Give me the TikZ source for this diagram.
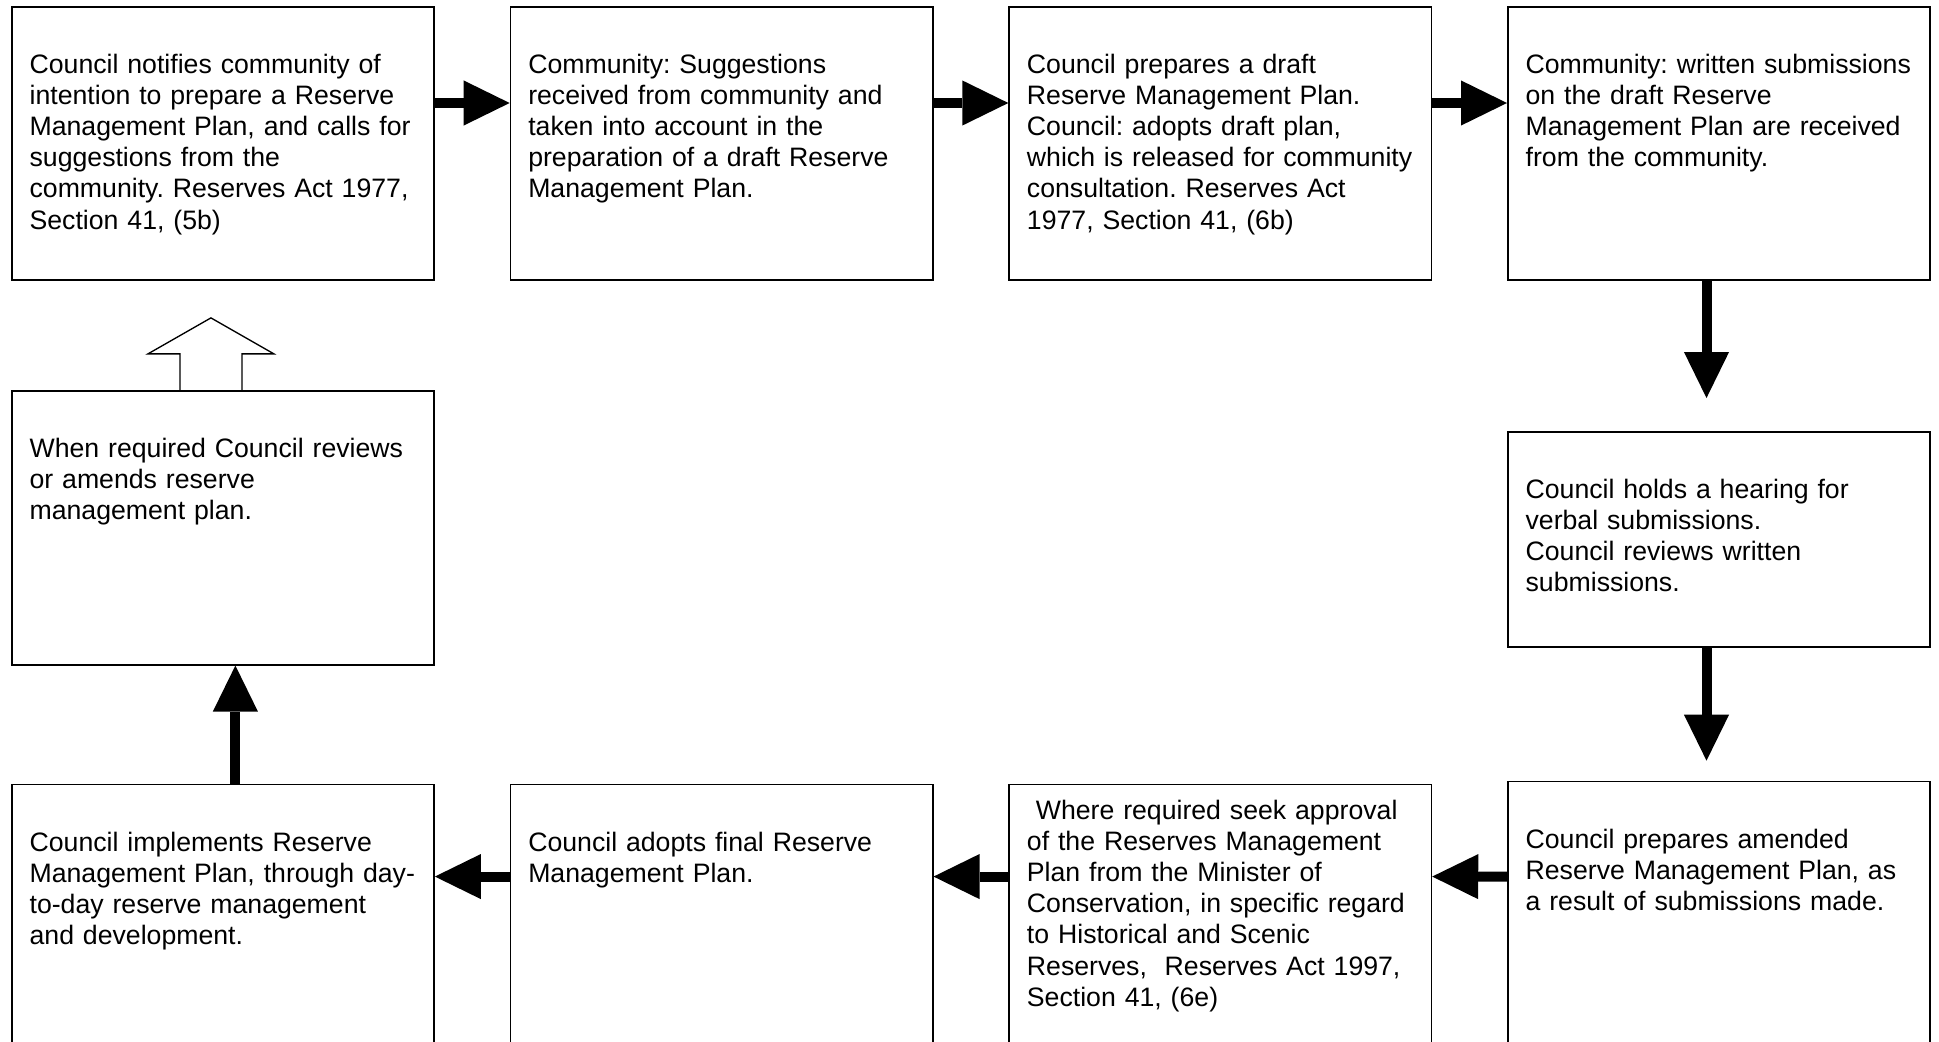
\documentclass[tikz,border=0pt]{standalone}
\usepackage{fontspec}
\newfontfamily\stagefont{Liberation Sans}
\usepackage{tikz}
\usetikzlibrary{arrows.meta}
\usetikzlibrary{positioning}
\frenchspacing
\hyphenpenalty=10000

\begin{document}
\begin{tikzpicture}[node distance=33.65pt,
	>={Triangle[width=20.3pt,length=20.7pt,line width=0pt]},
    stage/.style = {rectangle, draw=black, line width=0.75pt,
                    text width=174pt, inner xsep=8pt, inner ysep=0pt,
                    text height=30pt, align=left,
                    font={\stagefont\fontsize{12pt}{14pt}\selectfont}},
    toprow/.style = {stage, text depth=93pt},
    lowrow/.style = {stage, text depth=110pt},
    blockarrow/.style = {->, line width=4.5pt},
    hollow/.style = {draw=black, fill=white, line width=0.6pt}]
  \useasboundingbox (0,0) rectangle (872.55pt,-468.45pt);
  \clip (0,0) rectangle (872.55pt,-468.45pt);

  \node (notify) [toprow, anchor=north west] at (4.95pt,-2.7pt)
    {Council notifies community of\\ intention to prepare a Reserve\\
     Management Plan, and calls for\\ suggestions from the\\
     community. Reserves Act 1977,\\ Section 41, (5b)};
  \node (suggest) [toprow, right=of notify]
    {Community: Suggestions\\ received from community and\\
     taken into account in the\\ preparation of a draft Reserve\\
     Management Plan.};
  \node (draft) [toprow, right=of suggest]
    {Council prepares a draft\\ Reserve Management Plan.\\
     Council: adopts draft plan,\\ which is released for community\\
     consultation. Reserves Act\\ 1977, Section 41, (6b)};
  \node (written) [toprow, right=of draft]
    {Community: written submissions\\ on the draft Reserve\\
     Management Plan are received\\ from the community.};

  \node (hearing) [stage, text depth=66.75pt, below=67.5pt of written]
    {Council holds a hearing for\\ verbal submissions.\\
     Council reviews written\\ submissions.};
  \node (amended) [lowrow, below=59.85pt of hearing]
    {Council prepares amended\\ Reserve Management Plan, as\\
     a result of submissions made.};

  \node (review) [stage, text depth=93.3pt, below=49pt of notify]
    {When required Council reviews\\ or amends reserve\\ management plan.};
  \node (implement) [lowrow, below=53.1pt of review]
    {Council implements Reserve\\ Management Plan, through day-\\
     to-day reserve management\\ and development.};
  \node (adopt) [lowrow, right=of implement]
    {Council adopts final Reserve\\ Management Plan.};
  \node (approval) [lowrow, text height=15.8pt, text depth=124.2pt, right=of adopt]
    {~Where required seek approval\\ of the Reserves Management\\
     Plan from the Minister of\\ Conservation, in specific regard\\
     to Historical and Scenic\\ Reserves,~ Reserves Act 1997,\\
     Section 41, (6e)};

  % top row, left to right
  \draw[blockarrow] ([yshift=-43.65pt]notify.north east) -- ([yshift=-43.65pt]suggest.north west);
  \draw[blockarrow] ([yshift=-43.65pt]suggest.north east) -- ([yshift=-43.65pt]draft.north west);
  \draw[blockarrow] ([yshift=-43.65pt]draft.north east) -- ([yshift=-43.65pt]written.north west);

  % right column, downwards
  \draw[blockarrow] ([xshift=-5.6pt]written.south) -- ([xshift=-5.6pt,yshift=14.85pt]hearing.north);
  \draw[blockarrow] ([xshift=-5.6pt]hearing.south) -- ([xshift=-5.6pt,yshift=9pt]amended.north);

  % bottom row, right to left
  \draw[blockarrow] ([yshift=-43.2pt]amended.north west) -- ([yshift=-41.85pt]approval.north east);
  \draw[blockarrow] ([yshift=-41.85pt]approval.north west) -- ([yshift=-41.85pt]adopt.north east);
  \draw[blockarrow] ([yshift=-41.85pt]adopt.north west) -- ([yshift=-41.85pt]implement.north east);

  % back up the left side
  \draw[blockarrow] ([xshift=5.6pt]implement.north) -- ([xshift=5.6pt]review.south);
  \draw[hollow] ([xshift=-19.35pt]review.north) -- ++(0,16.2pt) -- ++(-14.4pt,0)
    -- ++(28.35pt,16.2pt) -- ++(28.35pt,-16.2pt) -- ++(-14.4pt,0) -- ++(0,-16.2pt);
\end{tikzpicture}
\end{document}
